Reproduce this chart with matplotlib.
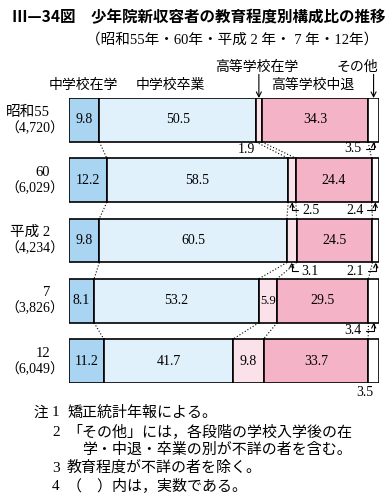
import numpy as np
import matplotlib.pyplot as plt
import matplotlib.transforms as mtransforms

plt.rcParams['font.family'] = ['Liberation Serif', 'Noto Sans CJK JP']

# data (percent)
years = ['昭和55', '60', '平成 2', '7', '12']
totals = ['（4,720）', '（6,029）', '（4,234）', '（3,826）', '（6,049）']
categories = ['中学校在学', '中学校卒業', '高等学校在学', '高等学校中退', 'その他']
chu_zaigaku = [9.8, 12.2, 9.8, 8.1, 11.2]
chu_sotsugyo = [50.5, 58.5, 60.5, 53.2, 41.7]
ko_zaigaku = [1.9, 2.5, 3.1, 5.9, 9.8]
ko_chutai = [34.3, 24.4, 24.5, 29.5, 33.7]
sonota = [3.5, 2.4, 2.1, 3.4, 3.5]

notes = [
    ('注', '1', '矯正統計年報による。'),
    ('', '2', '「その他」には，各段階の学校入学後の在'),
    ('', '', '学・中退・卒業の別が不詳の者を含む。'),
    ('', '3', '教育程度が不詳の者を除く。'),
    ('', '4', '（　）内は，実数である。'),
]

colors = ['#a9d5f2', '#e1f1fb', '#fbe1ea', '#f5b3c8', '#ffffff']

W, H = 391, 499
fig = plt.figure(figsize=(W / 100, H / 100), dpi=100)
ax = fig.add_axes([69 / W, 1 - 383 / H, 310 / W, 285 / H])
ax.axis('off')

h = 0.73
series = np.array([chu_zaigaku, chu_sotsugyo, ko_zaigaku, ko_chutai, sonota])
shares = series / series.sum(axis=0) * 100  # draw each row to full width
y = np.arange(len(years))
cum = np.vstack([np.zeros(len(years)), np.cumsum(shares, axis=0)])

for k in range(len(categories)):
    ax.barh(y, shares[k], left=cum[k], height=h, color=colors[k],
            edgecolor='black', linewidth=1.2)
ax.set_xlim(0, 100)
ax.set_ylim(len(years) - 1 + h / 2, -h / 2)

# values inside the bars
for r in range(len(years)):
    for k in range(4):
        v = series[k, r]
        if v >= 5:
            ax.text(cum[k, r] + shares[k, r] / 2, r, f'{v:.1f}', ha='center',
                    va='center', fontsize=10 if v >= 8 else 9)

# dotted lines joining the boundaries between years
for r in range(len(years) - 1):
    for b in range(1, 5):
        ax.plot([cum[b, r], cum[b, r + 1]], [r + h / 2, r + 1 - h / 2],
                ls=(0, (1, 1.8)), color='black', lw=0.8)

# small segments labelled below the bar: (row, category, dx px, dy px, arrow)
callouts = [(0, 2, -4, 8, False), (0, 4, -12, 7, True),
            (1, 2, 10, 8, True), (1, 4, -12, 8, True),
            (2, 2, 10, 9, True), (2, 4, -12, 9, True),
            (3, 4, -12, 8, True), (4, 4, 0, 9, False)]
for r, k, dx, dy, arrow in callouts:
    xc = cum[k, r] + shares[k, r] / 2
    props = None
    if arrow:
        props = dict(arrowstyle='->,head_length=0.3,head_width=0.15',
                     connectionstyle='angle,angleA=0,angleB=90,rad=0',
                     lw=0.8, color='black', shrinkA=1, shrinkB=0)
    ax.annotate(f'{series[k, r]:.1f}', xy=(xc, r + h / 2),
                xytext=(dx * 0.72, -dy * 0.72), textcoords='offset points',
                ha='right' if dx <= 0 else 'left', va='center',
                fontsize=10, arrowprops=props)

# category headers
header_pos = [(83, 85), (170, 85), (257, 67), (313, 85), (357, 67)]
for name, (px, py) in zip(categories, header_pos):
    fig.text(px / W, 1 - py / H, name, ha='center', va='center', fontsize=10)
for k in (2, 4):
    xc = cum[k, 0] + shares[k, 0] / 2
    ax.annotate('', xy=(xc, -h / 2), xytext=(0, 17), textcoords='offset points',
                arrowprops=dict(arrowstyle='->,head_length=0.35,head_width=0.18',
                                lw=0.8, color='black', shrinkA=0, shrinkB=0))

# row labels
trans = mtransforms.blended_transform_factory(fig.transFigure, ax.transData)
up = mtransforms.offset_copy(trans, fig=fig, y=8, units='dots')
down = mtransforms.offset_copy(trans, fig=fig, y=-8, units='dots')
for r in range(len(years)):
    ax.text(50 / W, r, years[r], transform=up, ha='right', va='center', fontsize=10.5)
    ax.text(64 / W, r, totals[r], transform=down, ha='right', va='center', fontsize=10)

# title
fig.text(12 / W, 1 - 17 / H, 'Ⅲ—34図　少年院新収容者の教育程度別構成比の推移',
         family='Noto Sans CJK JP', weight='bold', fontsize=11.2, va='center')
fig.text(232 / W, 1 - 40 / H, '（昭和55年・60年・平成 2 年・ 7 年・12年）',
         ha='center', va='center', fontsize=10.5)

# notes
note_y = [413, 432, 450, 468, 486]
for (head, num, txt), ny in zip(notes, note_y):
    yy = 1 - ny / H
    if head:
        fig.text(33 / W, yy, head, va='center', fontsize=10.5)
    if num:
        fig.text(52 / W, yy, num, va='center', fontsize=11)
        fig.text(67 / W, yy, txt, va='center', fontsize=10.8)
    else:
        fig.text(82 / W, yy, txt, va='center', fontsize=10.8)

fig.savefig('out.png', dpi=100)
